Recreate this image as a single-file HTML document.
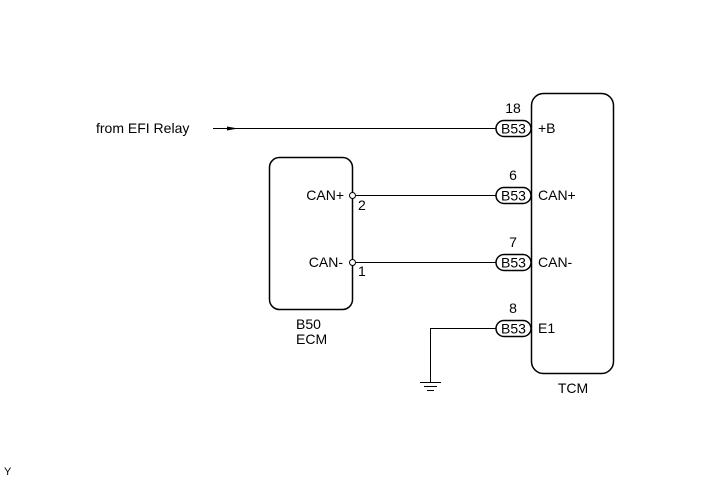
<!DOCTYPE html>
<html><head><meta charset="utf-8"><style>
html,body{margin:0;padding:0;background:#fff;}
svg{display:block;}
text{font-family:"Liberation Sans",Arial,sans-serif;font-size:14px;fill:#000;}
</style></head><body>
<svg width="713" height="481" viewBox="0 0 713 481" xmlns="http://www.w3.org/2000/svg">
<rect x="531.5" y="93.5" width="82" height="280" rx="12" fill="#fff" stroke="#000" stroke-width="1.5"/>
<rect x="269.5" y="157.5" width="83" height="152" rx="10" fill="#fff" stroke="#000" stroke-width="1.5"/>
<g stroke="#000" stroke-width="1">
<line x1="213" y1="128.5" x2="496" y2="128.5"/>
<line x1="356" y1="195.5" x2="496" y2="195.5"/>
<line x1="356" y1="262.5" x2="496" y2="262.5"/>
<polyline points="496,328.5 430.5,328.5 430.5,382" fill="none"/>
<line x1="420" y1="382.5" x2="441" y2="382.5"/>
<line x1="424" y1="386.5" x2="437" y2="386.5"/>
<line x1="427" y1="390.5" x2="434" y2="390.5"/>
</g>
<polygon points="238,128.5 227,126.5 227,130.5" fill="#000"/>
<circle cx="352.5" cy="195.5" r="3" fill="#fff" stroke="#000"/>
<circle cx="352.5" cy="262.5" r="3" fill="#fff" stroke="#000"/>
<g fill="#fff" stroke="#000" stroke-width="1.5">
<rect x="496" y="120.5" width="35" height="16" rx="8"/>
<rect x="496" y="187.5" width="35" height="16" rx="8"/>
<rect x="496" y="254.5" width="35" height="16" rx="8"/>
<rect x="496" y="320.5" width="35" height="16" rx="8"/>
</g>
<g text-anchor="middle">
<text x="513.5" y="133.5">B53</text><text x="513.5" y="200.5">B53</text>
<text x="513.5" y="267.5">B53</text><text x="513.5" y="333.5">B53</text>
<text x="513" y="113">18</text><text x="513" y="180">6</text>
<text x="513" y="247">7</text><text x="513" y="313">8</text>
<text x="573" y="393">TCM</text>
</g>
<text x="538" y="133">+B</text>
<text x="538" y="200">CAN+</text>
<text x="538" y="267">CAN-</text>
<text x="538" y="333">E1</text>
<text x="344" y="200" text-anchor="end">CAN+</text>
<text x="343" y="267" text-anchor="end">CAN-</text>
<text x="358" y="210">2</text>
<text x="358" y="276">1</text>
<text x="296" y="329">B50</text>
<text x="296" y="344">ECM</text>
<text x="96" y="133">from EFI Relay</text>
<text x="4" y="475" style="font-size:11px">Y</text>
</svg>
</body></html>
